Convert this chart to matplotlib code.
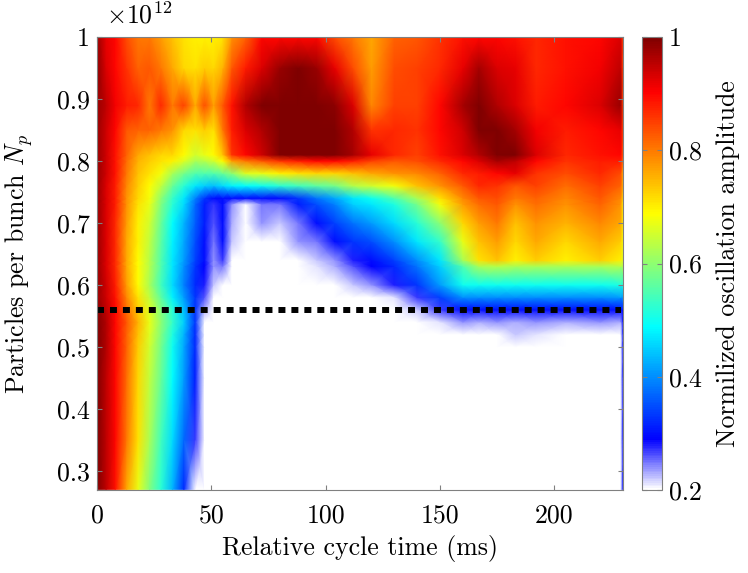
import matplotlib
matplotlib.use('Agg')
import numpy as np
import matplotlib.pyplot as plt
from matplotlib.colors import LinearSegmentedColormap

plt.rcParams['font.family'] = ['cmr10', 'DejaVu Serif']
plt.rcParams['mathtext.fontset'] = 'cm'
plt.rcParams['axes.formatter.use_mathtext'] = True
plt.rcParams['axes.unicode_minus'] = False

# time axis (ms)
t = [0, 4, 8, 13, 18, 23, 28, 33, 38, 43, 47, 51, 55, 59, 65, 72, 80, 88, 96, 104,
     112, 120, 130, 140, 150, 160, 167, 175, 183, 192, 205, 220, 229, 230]

# bunch intensity (1e12)
np_levels = [0.27, 0.35, 0.45, 0.50, 0.52, 0.54, 0.56, 0.58, 0.60, 0.63, 0.64, 0.67, 0.70,
             0.73, 0.74, 0.76, 0.78, 0.80, 0.81, 0.85, 0.89, 0.95, 1.00]

# normalized amplitude read row by row, one list per intensity
r027 = [1.0, .95, .89, .76, .67, .59, .52, .43, .32, .19, .15, .15, .15, .15, .15, .15, .15, .15, .15, .15, .15, .15, .15, .15, .15, .15, .15, .15, .15, .15, .15, .15, .15, .30]
r035 = [1.0, .95, .90, .80, .71, .62, .54, .46, .37, .27, .17, .15, .15, .15, .15, .15, .15, .15, .15, .15, .15, .15, .15, .15, .15, .15, .15, .15, .15, .15, .15, .15, .15, .30]
r045 = [1.0, .95, .90, .81, .72, .64, .57, .49, .41, .31, .16, .15, .15, .15, .15, .15, .15, .15, .15, .15, .15, .15, .15, .15, .15, .15, .15, .15, .15, .15, .15, .15, .15, .30]
r050 = [1.0, .96, .90, .82, .73, .65, .58, .50, .42, .32, .17, .15, .15, .15, .15, .15, .15, .15, .15, .15, .15, .15, .15, .15, .15, .15, .15, .15, .15, .15, .15, .15, .15, .30]
r052 = [1.0, .96, .90, .82, .74, .66, .59, .51, .43, .32, .18, .15, .15, .15, .15, .15, .15, .15, .15, .15, .15, .15, .15, .15, .15, .17, .19, .20, .22, .21, .19, .17, .17, .30]
r054 = [1.0, .96, .90, .83, .75, .67, .60, .53, .45, .33, .20, .15, .15, .15, .15, .15, .15, .15, .15, .15, .15, .15, .15, .16, .21, .24, .23, .24, .23, .24, .23, .24, .23, .30]
r056 = [.99, .95, .90, .81, .73, .66, .59, .52, .44, .33, .23, .15, .15, .15, .15, .15, .15, .15, .15, .15, .15, .15, .18, .22, .27, .30, .30, .30, .30, .30, .30, .30, .30, .30]
r058 = [.98, .94, .89, .79, .71, .64, .56, .48, .41, .33, .26, .19, .16, .15, .15, .15, .15, .15, .15, .16, .17, .18, .21, .27, .34, .40, .40, .40, .40, .40, .40, .40, .41, .40]
r060 = [.98, .94, .88, .77, .69, .62, .54, .46, .39, .32, .28, .22, .19, .15, .15, .15, .15, .15, .18, .20, .22, .24, .28, .33, .41, .50, .50, .50, .50, .50, .50, .50, .51, .50]
r063 = [.98, .93, .87, .76, .69, .63, .55, .47, .40, .33, .29, .24, .25, .17, .15, .15, .15, .17, .21, .23, .26, .29, .32, .38, .45, .55, .62, .63, .62, .62, .62, .62, .63, .62]
r064 = [.98, .93, .87, .76, .69, .63, .55, .47, .41, .34, .30, .24, .27, .18, .15, .15, .15, .18, .22, .24, .28, .30, .34, .40, .47, .62, .71, .74, .70, .73, .70, .73, .70, .66]
r067 = [.98, .93, .87, .76, .70, .64, .56, .48, .42, .35, .30, .25, .30, .22, .16, .17, .20, .24, .25, .30, .33, .35, .40, .47, .53, .67, .74, .77, .72, .76, .72, .76, .73, .68]
r070 = [.98, .93, .87, .77, .70, .65, .57, .49, .43, .36, .31, .26, .30, .23, .17, .24, .22, .25, .30, .34, .38, .41, .46, .52, .60, .72, .77, .80, .74, .78, .75, .79, .76, .70]
r073 = [.98, .93, .88, .78, .71, .67, .59, .52, .46, .37, .31, .27, .30, .24, .17, .25, .25, .31, .35, .39, .45, .47, .51, .58, .68, .77, .81, .83, .78, .81, .78, .82, .78, .70]
r074 = [.98, .93, .88, .78, .72, .68, .60, .53, .47, .39, .33, .30, .30, .30, .30, .30, .30, .33, .38, .42, .47, .50, .55, .62, .71, .79, .83, .84, .80, .82, .79, .83, .79, .72]
r076 = [.98, .93, .88, .79, .73, .69, .64, .57, .52, .47, .45, .44, .46, .48, .49, .50, .52, .54, .56, .58, .63, .65, .68, .74, .78, .83, .87, .86, .83, .85, .81, .85, .82, .75]
r078 = [.98, .94, .89, .80, .74, .71, .68, .62, .58, .55, .55, .55, .57, .60, .66, .67, .70, .71, .72, .72, .74, .76, .78, .79, .82, .87, .88, .90, .92, .86, .84, .87, .84, .75]
r080 = [.98, .94, .89, .81, .75, .73, .71, .70, .66, .62, .63, .65, .69, .77, .80, .83, .86, .88, .90, .90, .88, .85, .83, .84, .87, .90, .93, .97, .95, .90, .86, .88, .88, .80]
r081 = [.98, .94, .89, .82, .76, .74, .72, .72, .69, .65, .67, .69, .74, .86, .90, .94, 1.0, 1.0, 1.0, 1.0, .97, .92, .87, .85, .89, .93, .96, 1.0, 1.0, .93, .87, .89, .90, .83]
r085 = [.98, .94, .90, .83, .82, .82, .80, .78, .72, .71, .73, .71, .80, .88, .93, .96, 1.0, 1.0, 1.0, 1.0, .96, .86, .87, .86, .90, .94, 1.0, 1.0, .97, .91, .88, .90, .92, .85]
r089 = [.98, .95, .91, .88, .87, .80, .87, .80, .85, .76, .84, .77, .83, .89, .96, 1.0, 1.0, 1.0, 1.0, .99, .93, .79, .85, .85, .90, .97, 1.0, .96, .93, .88, .90, .93, .98, .85]
r095 = [.99, .93, .90, .86, .82, .83, .80, .76, .72, .71, .73, .72, .75, .83, .88, .93, .98, 1.0, .98, .92, .84, .77, .84, .85, .87, .92, .97, .93, .92, .87, .89, .91, .95, .85]
r100 = [.98, .92, .90, .84, .80, .80, .77, .74, .71, .70, .70, .70, .71, .78, .82, .90, .90, .90, .90, .84, .80, .76, .82, .83, .86, .89, .90, .90, .89, .87, .89, .90, .93, .85]

rows = [r027, r035, r045, r050, r052, r054, r056, r058, r060, r063, r064, r067, r070,
        r073, r074, r076, r078, r080, r081, r085, r089, r095, r100]
amp = np.array(rows)

threshold = 0.56

# white -> blue -> cyan -> yellow -> red -> dark red
stops = [(0.0, '#ffffff'), (0.11, '#0000ff'), (0.36, '#00ffff'), (0.61, '#ffff00'),
         (0.88, '#ff0000'), (1.0, '#7f0000')]
cmap = LinearSegmentedColormap.from_list('beam', stops)

gray = '#808080'
fs = 18.6
fig = plt.figure(figsize=(7.48, 5.73), dpi=100)
W, H = 748.0, 573.0
ax = fig.add_axes([97 / W, 1 - 490 / H, 526 / W, 453 / H])
cax = fig.add_axes([642 / W, 1 - 490 / H, 20 / W, 453 / H])

mesh = ax.pcolormesh(t, np_levels, amp, cmap=cmap, vmin=0.2, vmax=1.0, shading='gouraud')
ax.plot([0, 229], [threshold, threshold], color='k', lw=4.3,
        linestyle=(0, (1.17, 1.0)), dash_capstyle='butt')

ax.set_xlim(0, 230)
ax.set_ylim(0.269, 1.0)
ax.set_xticks([0, 50, 100, 150, 200])
ax.set_xticklabels(['0', '50', '100', '150', '200'])
ax.set_yticks([0.3, 0.4, 0.5, 0.6, 0.7, 0.8, 0.9, 1.0])
ax.set_yticklabels(['0.3', '0.4', '0.5', '0.6', '0.7', '0.8', '0.9', '1'])
ax.tick_params(axis='both', direction='in', length=3.5, width=0.8, color=gray,
               labelsize=fs, top=True, right=True, pad=5)
ax.tick_params(axis='x', pad=10)
for s in ax.spines.values():
    s.set_color(gray)
ax.set_xlabel('Relative cycle time (ms)', fontsize=fs, labelpad=5)
ax.set_ylabel(r'Particles per bunch $N_p$', fontsize=fs, labelpad=16)
fig.text(106 / W, 1 - 23 / H, r'$\times 10^{12}$', fontsize=fs, color='k')

cb = fig.colorbar(mesh, cax=cax)
cb.set_ticks([0.2, 0.4, 0.6, 0.8, 1.0])
cb.set_ticklabels(['0.2', '0.4', '0.6', '0.8', '1'])
cb.ax.tick_params(direction='in', length=3.5, width=0.8, color=gray, labelsize=fs,
                  left=True, right=True, pad=5)
cb.outline.set_edgecolor(gray)
cb.set_label('Normilized oscillation amplitude', fontsize=fs, labelpad=10)

fig.savefig('out.png', dpi=100)
